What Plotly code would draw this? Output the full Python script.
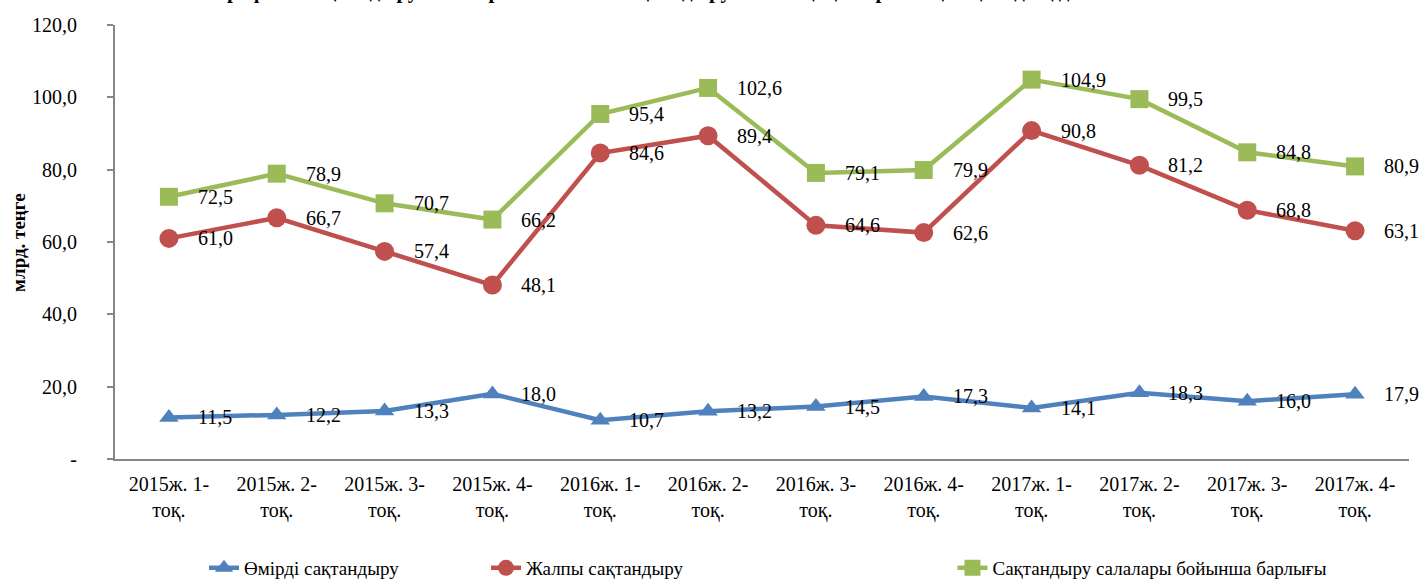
import plotly.graph_objects as go

categories = ["2015ж. 1-<br>тоқ.", "2015ж. 2-<br>тоқ.", "2015ж. 3-<br>тоқ.", "2015ж. 4-<br>тоқ.",
              "2016ж. 1-<br>тоқ.", "2016ж. 2-<br>тоқ.", "2016ж. 3-<br>тоқ.", "2016ж. 4-<br>тоқ.",
              "2017ж. 1-<br>тоқ.", "2017ж. 2-<br>тоқ.", "2017ж. 3-<br>тоқ.", "2017ж. 4-<br>тоқ."]
life = [11.5, 12.2, 13.3, 18.0, 10.7, 13.2, 14.5, 17.3, 14.1, 18.3, 16.0, 17.9]
general = [61.0, 66.7, 57.4, 48.1, 84.6, 89.4, 64.6, 62.6, 90.8, 81.2, 68.8, 63.1]
total = [72.5, 78.9, 70.7, 66.2, 95.4, 102.6, 79.1, 79.9, 104.9, 99.5, 84.8, 80.9]
series_names = ["Өмірді сақтандыру", "Жалпы сақтандыру", "Сақтандыру салалары бойынша барлығы"]
y_tickvals = [0, 20, 40, 60, 80, 100, 120]
y_ticktext = ["-", "20,0", "40,0", "60,0", "80,0", "100,0", "120,0"]
title_text = "График. Сақтандыру салалары бойынша сақтандыру сыйлықақыларының тоқсандық динамикасы"
y_title = "млрд. теңге"

FONT = "Liberation Serif, Times New Roman, serif"
colors = ["#4F81BD", "#C0504D", "#9BBB59"]
symbols = ["triangle-up", "circle", "square"]
sizes = [17, 19, 18]
legend_ids = ["legend", "legend2", "legend3"]

fig = go.Figure()
annotations = []
for i, (vals, name) in enumerate(zip([life, general, total], series_names)):
    fig.add_trace(go.Scatter(
        x=categories, y=vals, name=name, mode="lines+markers",
        line=dict(color=colors[i], width=4.5),
        marker=dict(symbol=symbols[i], size=sizes[i], color=colors[i]),
        legend=legend_ids[i],
    ))
    for c, v in zip(categories, vals):
        annotations.append(dict(
            x=c, y=v, xref="x", yref="y", text=f"{v:.1f}".replace(".", ","),
            showarrow=False, xanchor="left", yanchor="middle", xshift=27,
            font=dict(family=FONT, size=20, color="#000000"),
        ))

annotations.append(dict(
    x=0.449, y=1.079, xref="paper", yref="paper", text="<b>" + title_text + "</b>",
    showarrow=False, xanchor="center", yanchor="middle",
    font=dict(family=FONT, size=21, color="#000000"),
))
annotations.append(dict(
    x=-0.075, y=0.5, xref="paper", yref="paper", text="<b>" + y_title + "</b>",
    showarrow=False, xanchor="center", yanchor="middle", textangle=-90,
    font=dict(family=FONT, size=19, color="#000000"),
))

legend_common = dict(orientation="h", yanchor="middle", y=-0.251, xanchor="left",
                     font=dict(family=FONT, size=19, color="#000000"),
                     bgcolor="rgba(0,0,0,0)", borderwidth=0)
fig.update_layout(
    width=1422, height=579,
    margin=dict(l=115, r=13, t=25, b=120, autoexpand=False),
    paper_bgcolor="white", plot_bgcolor="white",
    font=dict(family=FONT, size=20, color="#000000"),
    showlegend=True,
    legend=dict(x=0.0688, **legend_common),
    legend2=dict(x=0.2867, **legend_common),
    legend3=dict(x=0.6472, **legend_common),
    annotations=annotations,
    xaxis=dict(
        type="category", showline=True, linecolor="#868686", linewidth=2,
        showgrid=False, ticks="", ticklabelstandoff=6, automargin=False,
        tickfont=dict(family=FONT, size=20, color="#000000"),
        range=[-0.5, 11.5],
    ),
    yaxis=dict(
        range=[0, 120], tickvals=y_tickvals, ticktext=y_ticktext,
        showline=True, linecolor="#868686", linewidth=2, showgrid=False,
        ticks="outside", ticklen=6, tickcolor="#868686", tickwidth=2,
        ticklabelstandoff=26, automargin=False,
        tickfont=dict(family=FONT, size=20, color="#000000"),
        zeroline=False,
    ),
)
fig.write_html("out.html", config={"displayModeBar": False},
               post_script="document.body.style.margin='0';document.body.style.overflow='hidden';")
